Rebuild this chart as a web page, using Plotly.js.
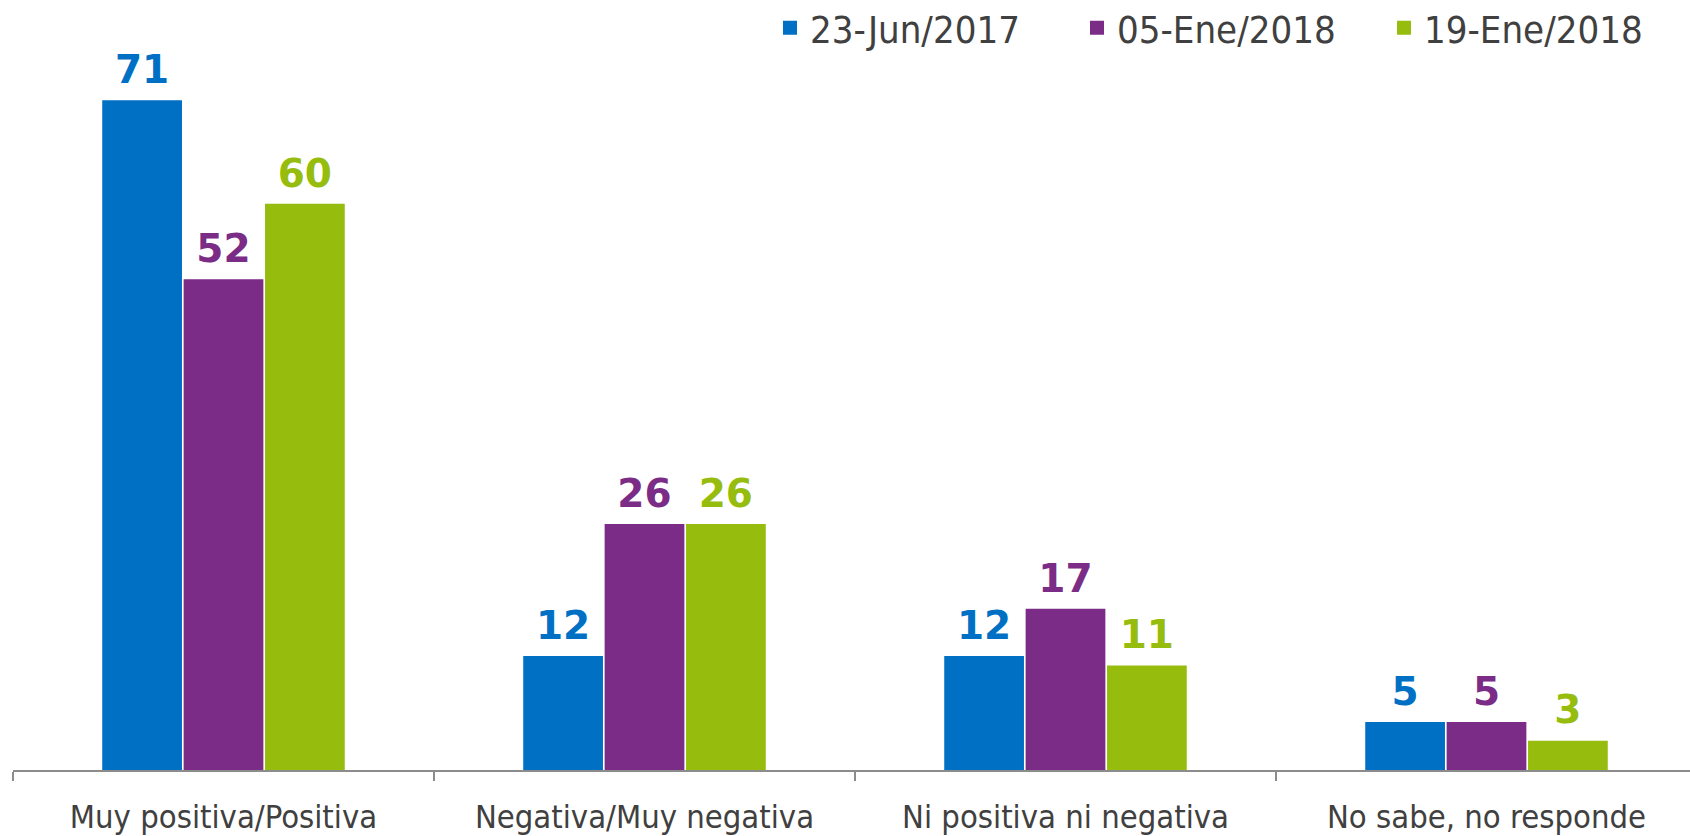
<!DOCTYPE html>
<html>
<head>
<meta charset="utf-8">
<script src="https://cdn.plot.ly/plotly-3.0.1.min.js"></script>
<style>
html,body{margin:0;padding:0;background:#fff;}
#chart{width:1690px;height:836px;}
</style>
</head>
<body>
<div id="chart"></div>
<script>
const categories = ["Muy positiva/Positiva", "Negativa/Muy negativa", "Ni positiva ni negativa", "No sabe, no responde"];
const seriesNames = ["23-Jun/2017", "05-Ene/2018", "19-Ene/2018"];
const jun2017 = [71, 12, 12, 5];
const ene05_2018 = [52, 26, 17, 5];
const ene19_2018 = [60, 26, 11, 3];
const seriesValues = [jun2017, ene05_2018, ene19_2018];
const colors = ["#0070C4", "#7B2C86", "#96BC0E"];

const labelFont = "DejaVu Sans Condensed, Liberation Sans Narrow, DejaVu Sans, sans-serif";
const numFont = "DejaVu Sans, sans-serif";

const traces = [];
seriesValues.forEach((vals, i) => {
  traces.push({
    type: "bar",
    name: seriesNames[i],
    x: categories,
    y: vals,
    offsetgroup: String(i),
    marker: {color: colors[i], line: {color: colors[i], width: 2}},
    hoverinfo: "x+y+name"
  });
});
seriesValues.forEach((vals, i) => {
  traces.push({
    type: "scatter",
    mode: "markers+text",
    showlegend: false,
    x: categories,
    y: vals,
    offsetgroup: String(i),
    text: vals.map(String),
    textposition: "top center",
    textfont: {family: numFont, size: 39, color: colors[i], weight: "bold"},
    marker: {size: 12, opacity: 0},
    cliponaxis: false,
    hoverinfo: "skip"
  });
});

const layout = {
  width: 1690,
  height: 836,
  margin: {l: 13, r: 0, t: 60, b: 66, pad: 0, autoexpand: false},
  paper_bgcolor: "#ffffff",
  plot_bgcolor: "#ffffff",
  barmode: "group",
  bargap: 0.42,
  bargroupgap: 0.045,
  scattermode: "group",
  scattergap: 0.42,
  showlegend: true,
  legend: {
    orientation: "h",
    x: (770 - 13) / 1677,
    xanchor: "left",
    y: 1 + (60 - 28) / 710,
    yanchor: "middle",
    entrywidth: 262,
    entrywidthmode: "pixels",
    font: {family: labelFont, size: 38, color: "#404040"},
    bgcolor: "rgba(0,0,0,0)"
  },
  xaxis: {
    type: "category",
    range: [-0.5, -0.5 + 1677 / 421],
    showgrid: false,
    zeroline: false,
    showline: true,
    linecolor: "#8C8C8C",
    linewidth: 2,
    ticks: "outside",
    tickson: "boundaries",
    ticklen: 9,
    tickwidth: 1.5,
    tickcolor: "#8C8C8C",
    ticklabelstandoff: 17,
    automargin: false,
    tickfont: {family: labelFont, size: 32.5, color: "#404040"}
  },
  yaxis: {
    range: [0, 710 / 9.42],
    visible: false,
    showgrid: false,
    zeroline: false
  }
};

Plotly.newPlot("chart", traces, layout, {displayModeBar: false, staticPlot: true});
</script>
</body>
</html>
